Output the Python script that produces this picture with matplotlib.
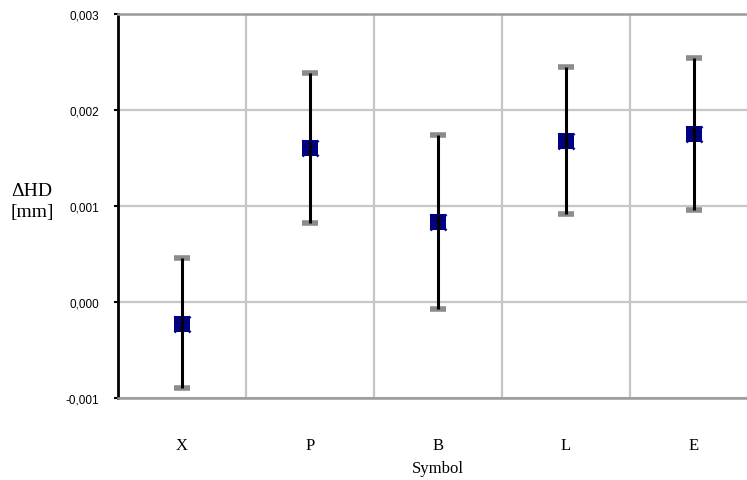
import numpy as np
import matplotlib
matplotlib.use("Agg")
import matplotlib.pyplot as plt

# Mittelwerte und Streuung je Symbol
symbols = ["X", "P", "B", "L", "E"]
mean_hd = [-0.00023, 0.00160, 0.00083, 0.00168, 0.00175]
upper_hd = [0.00046, 0.00239, 0.00174, 0.00245, 0.00254]
lower_hd = [-0.00090, 0.00082, -0.00007, 0.00092, 0.00096]

y_ticks = [-0.001, 0.000, 0.001, 0.002, 0.003]
y_labels = ["-0,001", "0,000", "0,001", "0,002", "0,003"]

W, H = 747, 481
fig = plt.figure(figsize=(W / 100, H / 100), dpi=100)
ax = fig.add_axes([118 / W, (H - 399) / H, 640 / W, 384 / H])

x = np.arange(len(symbols))
mean_hd = np.array(mean_hd)
upper_hd = np.array(upper_hd)
lower_hd = np.array(lower_hd)

# Gitter an den Kategoriegrenzen und auf den Y-Ticks
ax.set_xlim(-0.5, len(symbols) - 0.5)
ax.set_ylim(-0.001, 0.003)
ax.set_xticks(x)
ax.set_xticks(x[:-1] + 0.5, minor=True)
ax.grid(True, which="minor", axis="x", color="#c6c6c6", lw=1.6)
ax.grid(True, which="major", axis="y", color="#c6c6c6", lw=1.6)
ax.set_axisbelow(True)

# Endstriche (grau), dann die schwarzen Linien
ax.plot(x, upper_hd, ls="none", marker="_", ms=12, mew=4, color="#8c8c8c", zorder=3)
ax.plot(x, lower_hd, ls="none", marker="_", ms=12, mew=4, color="#8c8c8c", zorder=3)
ax.vlines(x, lower_hd, upper_hd, color="black", lw=2.2, zorder=4)

# Messpunkte
ax.plot(x, mean_hd, ls="none", marker="x", ms=11.5, mew=1.8, color="#000080", zorder=5)
ax.plot(x, mean_hd, ls="none", marker="s", ms=11, mew=0, color="#000080", zorder=6)
ax.vlines(x, mean_hd - 0.00008, mean_hd + 0.00008, color="black", lw=2.2, zorder=7)

ax.set_yticks(y_ticks)
ax.set_yticklabels(y_labels, fontfamily="Liberation Sans", fontsize=8.5)
ax.set_xticklabels(symbols, fontfamily="Liberation Serif", fontsize=12)
ax.tick_params(axis="y", length=3, width=1.5, color="black", pad=10.5)
ax.tick_params(axis="x", which="both", length=0, pad=28)

ax.set_xlabel("Symbol", fontfamily="Liberation Serif", fontsize=12, labelpad=5)

for side in ["top", "bottom"]:
    ax.spines[side].set_color("#9a9a9a")
    ax.spines[side].set_linewidth(1.8)
ax.spines["left"].set_color("black")
ax.spines["left"].set_linewidth(2)
ax.spines["right"].set_visible(False)

fig.text(11 / W, 1 - 202 / H, "ΔHD\n[mm]", fontfamily="Liberation Serif",
         fontsize=14, ha="left", va="center", linespacing=1.25)

fig.savefig("out.png", dpi=100)
